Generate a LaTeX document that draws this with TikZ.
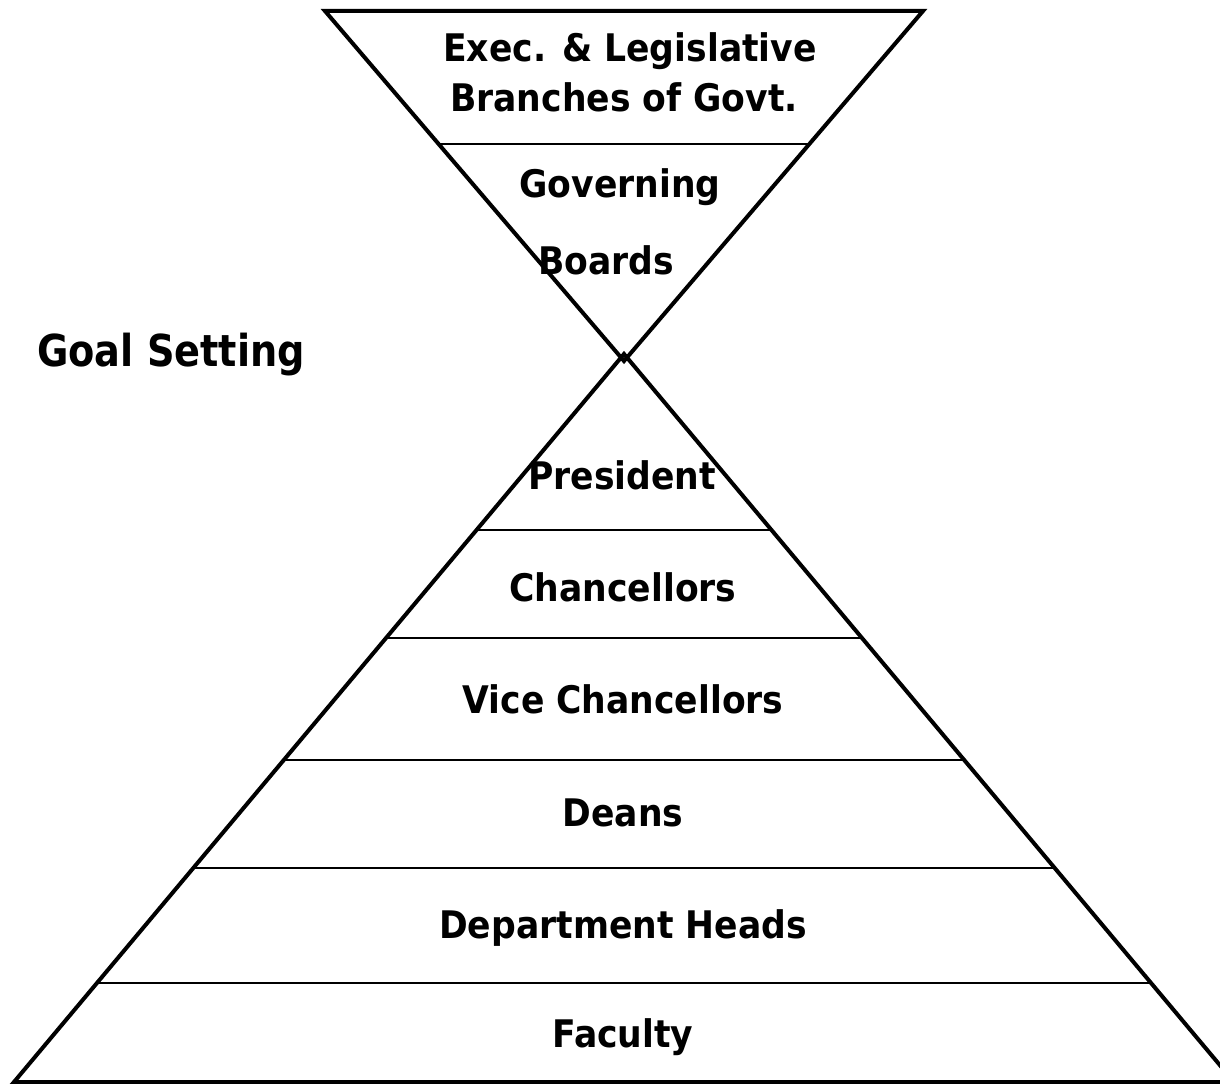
\documentclass[tikz,border=0pt]{standalone}
\usepackage{fontspec}
\newfontfamily\labelfont{DejaVu Sans}[FakeStretch=0.91]
\newfontfamily\goalfont{DejaVu Sans}[FakeStretch=0.87]
\begin{document}
\begin{tikzpicture}[x=0.75pt,y=-0.75pt,
  edge/.style={line width=3pt,line join=miter},
  band/.style={line width=1.5pt},
  lbl/.style={inner sep=0pt,anchor=base,font=\labelfont\bfseries\fontsize{28.5}{34}\selectfont},
  goal/.style={inner sep=0pt,anchor=base,font=\goalfont\bfseries\fontsize{33}{40}\selectfont}]
\useasboundingbox (0,0) rectangle (1220,1084);
\begin{scope}
\clip (0,0) rectangle (1220,1084);
% inverted triangle: goal setting bodies
\draw[edge] (325,11) -- (923,11) -- (624,361) -- cycle;
\draw[band] (440,144) -- (808,144);
% pyramid of the university hierarchy
\draw[edge] (624,354) -- (14,1082) -- (1234,1082) -- cycle;
\foreach \yy in {530,638,760,868,983}{
  \pgfmathsetmacro\hw{610/728*(\yy-354)}
  \draw[band] ({624-\hw},\yy) -- ({624+\hw},\yy);
}
\end{scope}
% labels
\node[lbl] (exec) at (630,62) {Exec. \& Legislative};
\node[lbl] (branch) at (624,112) {Branches of Govt.};
\node[lbl] (gov) at (620,198) {Governing};
\node[lbl] (boards) at (606,275) {Boards};
\node[goal] (goalset) at (171,366) {Goal Setting};
\node[lbl] (pres) at (622,489) {President};
\node[lbl] (chan) at (623,601) {Chancellors};
\node[lbl] (vice) at (623,713) {Vice Chancellors};
\node[lbl] (deans) at (623,826) {Deans};
\node[lbl] (dept) at (623,938) {Department Heads};
\node[lbl] (fac) at (623,1047) {Faculty};
\end{tikzpicture}
\end{document}
